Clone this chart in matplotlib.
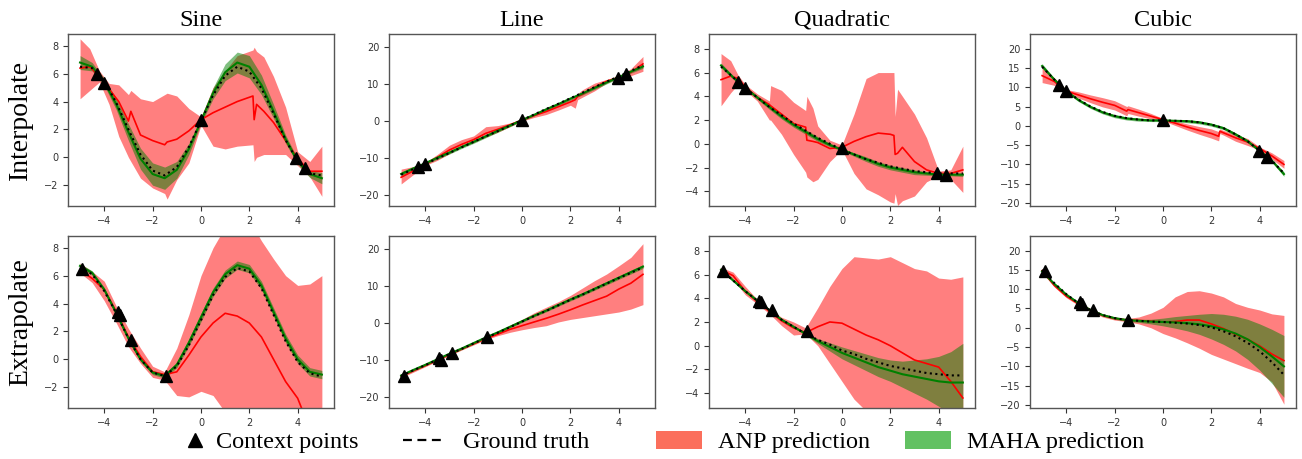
import numpy as np
import matplotlib
matplotlib.use('Agg')
import matplotlib.pyplot as plt
from matplotlib.lines import Line2D
from matplotlib.patches import Patch

# shared x grid for ground truth and MAHA curves
xs = [-5.0, -4.5, -4.0, -3.5, -3.0, -2.5, -2.0, -1.5, -1.0, -0.5, 0.0,
      0.5, 1.0, 1.5, 2.0, 2.5, 3.0, 3.5, 4.0, 4.5, 5.0]

col_titles = ['Sine', 'Line', 'Quadratic', 'Cubic']
row_titles = ['Interpolate', 'Extrapolate']

# context points
ctx_int_x = [-4.3, -4.0, 0.0, 3.95, 4.3]
ctx_ext_x = [-4.9, -3.45, -3.35, -2.9, -1.45]
sine_int_ctx = [6.0, 5.3, 2.65, -0.05, -0.75]
sine_ext_ctx = [6.5, 3.4, 3.2, 1.4, -1.2]
line_int_ctx = [-12.3, -11.5, 0.3, 11.8, 12.8]
line_ext_ctx = [-14.2, -9.5, -9.9, -8.2, -3.7]
quad_int_ctx = [5.2, 4.7, -0.35, -2.5, -2.6]
quad_ext_ctx = [6.3, 3.8, 3.7, 3.0, 1.2]
cub_int_ctx = [10.5, 9.0, 1.4, -6.6, -8.0]
cub_ext_ctx = [14.6, 6.6, 6.2, 4.7, 2.0]

# ---- Sine ----
sine_int_gt = [6.5, 6.4, 5.5, 3.9, 2.0, 0.2, -0.95, -1.3, -0.7, 0.75, 2.6,
               4.45, 5.85, 6.5, 6.15, 4.95, 3.15, 1.25, -0.3, -1.15, -1.3]
sine_int_maha = [6.8, 6.5, 5.4, 3.8, 1.8, -0.1, -1.2, -1.5, -0.9, 0.6, 2.6,
                 4.6, 6.1, 6.8, 6.5, 5.2, 3.3, 1.3, -0.3, -1.2, -1.5]
sine_int_maha_sd = [0.5, 0.3, 0.25, 0.4, 0.6, 0.75, 0.8, 0.8, 0.6, 0.4, 0.2,
                    0.4, 0.6, 0.75, 0.8, 0.7, 0.5, 0.3, 0.2, 0.25, 0.4]
sine_int_anp_x = [-5.0, -4.6, -4.2, -3.8, -3.4, -3.0, -2.9, -2.5, -2.0, -1.5,
                  -1.4, -1.0, -0.5, 0.0, 0.5, 1.0, 1.5, 2.15, 2.2, 2.3, 2.6,
                  3.0, 3.5, 4.0, 4.5, 5.0]
sine_int_anp = [6.4, 6.5, 5.8, 4.9, 4.0, 2.6, 3.3, 1.6, 1.2, 0.9, 1.1, 1.3,
                1.9, 2.7, 3.2, 3.6, 4.0, 4.4, 2.7, 3.8, 3.3, 2.5, 1.2, -0.1,
                -1.0, -1.0]
sine_int_anp_hi = [8.5, 7.8, 6.2, 5.3, 5.2, 4.5, 4.8, 4.2, 4.0, 4.5, 4.6, 4.4,
                   3.5, 2.9, 5.0, 6.2, 7.3, 7.7, 7.9, 7.6, 7.2, 5.8, 3.6, 0.4,
                   -0.3, 0.8]
sine_int_anp_lo = [4.2, 4.8, 5.4, 3.8, 1.5, 0.0, -0.3, -1.5, -2.2, -2.6, -3.0,
                   -1.6, -0.4, 2.3, 0.8, 0.6, 0.8, 0.9, -0.3, 0.0, 0.2, 0.2,
                   0.2, -0.6, -1.4, -2.8]

sine_ext_gt = [6.6, 6.1, 4.9, 3.3, 1.5, 0.0, -0.95, -1.2, -0.5, 1.0, 2.8,
               4.6, 5.9, 6.55, 6.3, 5.1, 3.2, 1.3, -0.2, -1.0, -1.25]
sine_ext_maha = [6.7, 6.2, 5.0, 3.3, 1.5, 0.0, -0.95, -1.2, -0.4, 1.2, 3.0,
                 4.8, 6.1, 6.75, 6.5, 5.3, 3.4, 1.5, 0.0, -0.9, -1.1]
sine_ext_maha_sd = [0.15, 0.15, 0.15, 0.15, 0.15, 0.15, 0.15, 0.15, 0.2, 0.25,
                    0.3, 0.3, 0.3, 0.3, 0.3, 0.3, 0.3, 0.3, 0.3, 0.3, 0.3]
sine_ext_anp = [6.4, 5.8, 5.0, 3.4, 1.6, 0.2, -0.9, -1.1, -0.9, 0.3, 1.6,
                2.6, 3.3, 3.1, 2.6, 1.6, 0.0, -1.6, -2.8, -5.0, -7.0]
sine_ext_anp_hi = [6.9, 6.3, 5.6, 3.8, 2.2, 0.8, -0.5, -0.9, 0.8, 3.2, 6.0,
                   8.0, 9.5, 10.5, 10.0, 8.5, 7.2, 6.0, 5.3, 5.4, 6.0]
sine_ext_anp_lo = [6.2, 5.5, 4.2, 2.6, 0.9, -0.3, -1.3, -1.5, -2.6, -2.7, -2.3,
                   -2.6, -3.8, -5.0, -6.0, -6.0, -6.0, -6.0, -6.0, -6.0, -6.0]

# ---- Line ----
line_int_gt = [-14.5, -13.0, -11.6, -10.1, -8.6, -7.1, -5.6, -4.1, -2.7, -1.2,
               0.3, 1.8, 3.3, 4.7, 6.2, 7.7, 9.2, 10.7, 12.1, 13.6, 15.1]
line_int_maha = [-14.3, -12.8, -11.4, -9.9, -8.5, -7.0, -5.6, -4.1, -2.6, -1.2,
                 0.3, 1.7, 3.2, 4.6, 6.1, 7.5, 9.0, 10.5, 11.9, 13.4, 14.8]
line_int_maha_sd = [0.5, 0.4, 0.3, 0.4, 0.4, 0.4, 0.4, 0.4, 0.4, 0.3, 0.3,
                    0.3, 0.4, 0.4, 0.4, 0.4, 0.4, 0.4, 0.3, 0.4, 0.5]
line_int_anp_x = [-5.0, -4.5, -4.0, -3.5, -3.0, -2.5, -2.0, -1.5, -1.0, -0.5,
                  0.0, 0.5, 1.0, 1.5, 2.0, 2.2, 2.3, 2.5, 3.0, 3.5, 4.0, 4.5,
                  5.0]
line_int_anp = [-15.2, -13.5, -11.6, -9.8, -7.8, -6.3, -5.0, -3.3, -2.2, -1.0,
                0.3, 1.5, 2.6, 3.9, 5.2, 5.8, 6.7, 7.3, 9.2, 10.8, 11.9, 13.2,
                15.5]
line_int_anp_hi = [-13.0, -12.3, -11.2, -9.0, -6.5, -5.0, -4.0, -1.5, -1.2,
                   -0.5, 0.6, 2.0, 3.5, 4.8, 6.0, 6.5, 7.5, 8.5, 10.3, 11.3,
                   12.2, 14.2, 17.5]
line_int_anp_lo = [-17.0, -14.5, -12.0, -10.6, -8.8, -7.0, -5.8, -4.3, -3.0,
                   -1.5, 0.0, 1.0, 1.8, 3.0, 4.3, 3.5, 5.8, 6.5, 8.2, 10.3,
                   11.6, 12.3, 13.5]

line_ext_gt = [-14.3, -12.8, -11.4, -9.9, -8.4, -7.0, -5.5, -4.0, -2.6, -1.1,
               0.4, 1.9, 3.3, 4.8, 6.3, 7.7, 9.2, 10.7, 12.2, 13.6, 15.1]
line_ext_maha = [-14.2, -12.7, -11.3, -9.8, -8.3, -6.9, -5.4, -3.9, -2.5, -1.0,
                 0.5, 2.0, 3.4, 4.9, 6.4, 7.8, 9.3, 10.8, 12.3, 13.8, 15.3]
line_ext_maha_sd = [0.3, 0.3, 0.3, 0.3, 0.3, 0.3, 0.3, 0.3, 0.3, 0.3, 0.3,
                    0.3, 0.35, 0.35, 0.4, 0.4, 0.4, 0.45, 0.45, 0.5, 0.5]
line_ext_anp = [-14.4, -12.9, -11.5, -10.0, -8.5, -7.0, -5.6, -4.2, -3.0, -1.7,
                -0.7, 0.3, 1.3, 2.4, 3.6, 4.9, 6.1, 7.3, 9.2, 10.8, 13.2]
line_ext_anp_hi = [-14.0, -12.6, -11.2, -9.7, -8.2, -6.7, -5.3, -3.9, -2.4,
                   -0.6, 1.0, 2.8, 4.3, 5.8, 7.5, 9.5, 11.5, 13.3, 15.5, 17.8,
                   21.5]
line_ext_anp_lo = [-14.8, -13.3, -11.8, -10.3, -8.8, -7.3, -5.9, -4.5, -3.4,
                   -2.5, -1.8, -1.2, -0.7, 0.3, 1.0, 1.5, 2.0, 2.5, 3.0, 3.8,
                   5.0]

# ---- Quadratic ----
quad_int_gt = [6.5, 5.6, 4.7, 3.9, 3.1, 2.4, 1.7, 1.1, 0.5, 0.0, -0.5, -0.9,
               -1.3, -1.6, -1.9, -2.1, -2.3, -2.4, -2.5, -2.5, -2.5]
quad_int_maha = [6.6, 5.6, 4.7, 3.9, 3.1, 2.3, 1.6, 1.0, 0.4, -0.1, -0.5, -0.9,
                 -1.3, -1.7, -2.0, -2.2, -2.4, -2.5, -2.6, -2.6, -2.6]
quad_int_maha_sd = [0.2, 0.15, 0.1, 0.15, 0.2, 0.2, 0.2, 0.2, 0.2, 0.15, 0.1,
                    0.15, 0.2, 0.2, 0.2, 0.2, 0.2, 0.15, 0.1, 0.1, 0.15]
quad_int_anp_x = [-5.0, -4.6, -4.3, -4.0, -3.5, -3.0, -2.95, -2.5, -2.0, -1.5,
                  -1.45, -1.2, -1.0, -0.5, 0.0, 0.5, 1.0, 1.5, 2.0, 2.15, 2.2,
                  2.3, 2.5, 3.0, 3.5, 4.0, 4.5, 5.0]
quad_int_anp = [5.4, 5.7, 5.5, 4.8, 3.9, 3.3, 3.2, 2.5, 1.7, 1.4, 0.3, 0.2,
                0.1, -0.4, -0.3, 0.2, 0.6, 0.9, 0.8, 0.7, -0.9, -0.8, -0.3,
                -1.5, -2.2, -2.5, -2.5, -2.2]
quad_int_anp_hi = [7.6, 7.0, 5.8, 5.0, 4.2, 3.6, 4.9, 4.5, 3.5, 2.8, 4.0, 3.0,
                   1.5, 0.3, -0.1, 2.5, 5.5, 6.0, 6.0, 6.0, 2.3, 4.6, 4.0, 2.5,
                   0.5, -2.3, -2.2, -0.2]
quad_int_anp_lo = [3.2, 4.3, 5.0, 4.5, 3.6, 2.0, 2.0, 0.8, -0.9, -2.4, -2.8,
                   -3.2, -3.0, -1.5, -0.5, -2.5, -3.8, -4.3, -4.9, -5.0, -4.2,
                   -5.2, -4.8, -4.4, -3.2, -2.7, -3.0, -4.1]

quad_ext_gt = [6.4, 5.5, 4.6, 3.8, 3.0, 2.2, 1.6, 1.0, 0.5, 0.1, -0.4, -0.7,
               -1.1, -1.4, -1.7, -1.9, -2.1, -2.3, -2.4, -2.5, -2.5]
quad_ext_maha = [6.4, 5.5, 4.6, 3.8, 3.0, 2.2, 1.6, 1.0, 0.4, -0.1, -0.6,
                 -1.0, -1.4, -1.8, -2.1, -2.4, -2.6, -2.8, -3.0, -3.1, -3.1]
quad_ext_maha_sd = [0.1, 0.1, 0.1, 0.1, 0.1, 0.1, 0.1, 0.1, 0.2, 0.35, 0.5,
                    0.6, 0.7, 0.8, 0.9, 1.1, 1.4, 1.7, 2.1, 2.6, 3.3]
quad_ext_anp = [6.4, 5.9, 4.6, 3.7, 2.9, 2.1, 1.5, 1.1, 1.6, 2.0, 1.9, 1.4,
                0.9, 0.5, 0.0, -0.6, -1.2, -1.5, -1.8, -3.0, -4.4]
quad_ext_anp_hi = [6.6, 6.2, 5.0, 3.9, 3.1, 2.4, 2.0, 1.5, 3.2, 5.0, 6.5, 7.5,
                   7.4, 7.3, 7.5, 7.0, 6.5, 6.3, 5.7, 5.6, 5.8]
quad_ext_anp_lo = [6.2, 5.6, 4.3, 3.5, 2.7, 1.7, 0.9, 1.0, 0.0, -1.5, -3.0,
                   -4.5, -5.5, -6.0, -6.0, -6.0, -6.0, -6.0, -6.0, -6.0, -6.0]

# ---- Cubic ----
cub_int_gt = [15.3, 12.0, 9.0, 6.8, 5.0, 3.6, 2.6, 2.0, 1.6, 1.4, 1.4, 1.3,
              1.2, 0.9, 0.3, -0.6, -2.2, -4.0, -6.5, -9.0, -12.3]
cub_int_maha = [15.5, 12.0, 9.0, 6.7, 4.9, 3.5, 2.5, 1.9, 1.6, 1.4, 1.4, 1.3,
                1.2, 0.9, 0.3, -0.6, -2.2, -4.0, -6.5, -9.0, -12.5]
cub_int_maha_sd = [0.6, 0.4, 0.3, 0.4, 0.4, 0.4, 0.4, 0.4, 0.4, 0.3, 0.3,
                   0.3, 0.4, 0.4, 0.4, 0.4, 0.4, 0.4, 0.3, 0.4, 0.6]
cub_int_anp_x = [-5.0, -4.5, -4.0, -3.5, -3.0, -2.5, -2.0, -1.5, -1.45, -1.0,
                 -0.5, 0.0, 0.5, 1.0, 1.5, 2.0, 2.3, 2.35, 2.5, 3.0, 3.5, 4.0,
                 4.5, 5.0]
cub_int_anp = [13.0, 11.5, 9.0, 8.0, 7.0, 6.1, 5.3, 3.8, 4.2, 3.4, 2.5, 1.6,
               0.7, -0.3, -1.2, -2.0, -2.7, -1.4, -1.8, -3.1, -4.2, -5.9,
               -7.8, -10.0]
cub_int_anp_hi = [15.0, 12.5, 9.4, 8.8, 8.0, 7.3, 6.5, 5.0, 5.2, 4.3, 3.2,
                  1.9, 1.3, 0.5, -0.2, -0.8, -1.5, -0.8, -1.2, -2.2, -3.3,
                  -5.5, -7.0, -9.0]
cub_int_anp_lo = [11.2, 10.5, 8.6, 7.2, 6.0, 4.9, 4.1, 2.6, 3.2, 2.5, 1.8,
                  1.3, 0.1, -1.1, -2.2, -3.2, -3.9, -2.0, -2.4, -4.0, -5.1,
                  -6.3, -8.6, -11.0]

cub_ext_gt = [15.0, 11.6, 8.7, 6.4, 4.6, 3.3, 2.5, 2.0, 1.8, 1.6, 1.5, 1.3,
              1.1, 0.7, 0.1, -0.9, -2.2, -3.9, -6.1, -8.9, -12.2]
cub_ext_maha = [14.6, 11.4, 8.6, 6.4, 4.6, 3.3, 2.5, 2.0, 1.8, 1.6, 1.5, 1.4,
                1.2, 0.9, 0.4, -0.4, -1.5, -3.0, -5.0, -7.4, -10.0]
cub_ext_maha_sd = [0.3, 0.3, 0.3, 0.3, 0.3, 0.3, 0.3, 0.3, 0.4, 0.6, 1.0,
                   1.5, 2.0, 2.6, 3.3, 3.9, 4.5, 5.2, 6.0, 7.0, 8.0]
cub_ext_anp = [14.8, 11.0, 8.2, 6.2, 4.6, 3.2, 2.4, 2.0, 1.9, 1.7, 1.5, 1.6,
               2.0, 2.0, 1.0, -0.2, -1.7, -3.0, -4.7, -6.8, -8.5]
cub_ext_anp_hi = [15.3, 11.5, 8.6, 6.6, 5.0, 3.6, 2.8, 2.4, 2.8, 3.8, 5.3,
                  8.0, 9.4, 9.6, 9.0, 8.0, 6.3, 5.3, 4.6, 3.6, 3.2]
cub_ext_anp_lo = [14.3, 10.6, 7.8, 5.8, 4.2, 2.8, 2.0, 1.6, 1.0, 0.0, -1.5,
                  -2.6, -3.9, -5.3, -6.9, -8.1, -9.3, -10.5, -11.6, -14.0,
                  -19.8]

ylims = [(-3.5, 8.85), (-23.0, 23.6), (-5.25, 9.25), (-20.8, 23.8)]
yticks = [[-2, 0, 2, 4, 6, 8], [-20, -10, 0, 10, 20],
          [-4, -2, 0, 2, 4, 6, 8], [-20, -15, -10, -5, 0, 5, 10, 15, 20]]

# (gt, maha, maha_sd, anp_x, anp, anp_lo, anp_hi, ctx_x, ctx_y)
panels = [
    [(sine_int_gt, sine_int_maha, sine_int_maha_sd, sine_int_anp_x, sine_int_anp,
      sine_int_anp_lo, sine_int_anp_hi, ctx_int_x, sine_int_ctx),
     (line_int_gt, line_int_maha, line_int_maha_sd, line_int_anp_x, line_int_anp,
      line_int_anp_lo, line_int_anp_hi, ctx_int_x, line_int_ctx),
     (quad_int_gt, quad_int_maha, quad_int_maha_sd, quad_int_anp_x, quad_int_anp,
      quad_int_anp_lo, quad_int_anp_hi, ctx_int_x, quad_int_ctx),
     (cub_int_gt, cub_int_maha, cub_int_maha_sd, cub_int_anp_x, cub_int_anp,
      cub_int_anp_lo, cub_int_anp_hi, ctx_int_x, cub_int_ctx)],
    [(sine_ext_gt, sine_ext_maha, sine_ext_maha_sd, xs, sine_ext_anp,
      sine_ext_anp_lo, sine_ext_anp_hi, ctx_ext_x, sine_ext_ctx),
     (line_ext_gt, line_ext_maha, line_ext_maha_sd, xs, line_ext_anp,
      line_ext_anp_lo, line_ext_anp_hi, ctx_ext_x, line_ext_ctx),
     (quad_ext_gt, quad_ext_maha, quad_ext_maha_sd, xs, quad_ext_anp,
      quad_ext_anp_lo, quad_ext_anp_hi, ctx_ext_x, quad_ext_ctx),
     (cub_ext_gt, cub_ext_maha, cub_ext_maha_sd, xs, cub_ext_anp,
      cub_ext_anp_lo, cub_ext_anp_hi, ctx_ext_x, cub_ext_ctx)],
]

serif = ['Liberation Serif', 'DejaVu Serif']

fig = plt.figure(figsize=(13.02, 4.59), dpi=100)
lefts = [0.0522, 0.2988, 0.5445, 0.7911]
bottoms = [0.551, 0.111]

for r in range(2):
    for c in range(4):
        gt, mu, sd, ax_x, anp, lo, hi, cx, cy = panels[r][c]
        ax = fig.add_axes([lefts[c], bottoms[r], 0.2043, 0.375])
        mu = np.array(mu)
        sd = np.array(sd)
        ax.fill_between(ax_x, lo, hi, color='red', alpha=0.5, linewidth=0)
        ax.fill_between(xs, mu - sd, mu + sd, color='green', alpha=0.5, linewidth=0)
        ax.plot(ax_x, anp, color='red', lw=1.2)
        ax.plot(xs, mu, color='green', lw=1.5)
        ax.plot(xs, gt, 'k:', lw=1.5)
        ax.plot(cx, cy, 'k^', markersize=8, zorder=5)
        ax.set_xlim(-5.5, 5.5)
        ax.set_ylim(*ylims[c])
        ax.set_xticks([-4, -2, 0, 2, 4])
        ax.set_yticks(yticks[c])
        ax.tick_params(labelsize=7, colors='#333333', length=3.5, width=0.8)
        for s in ax.spines.values():
            s.set_color('#555555')
            s.set_linewidth(1.0)
        if r == 0:
            ax.set_title(col_titles[c], family=serif, fontsize=17.5, pad=6)

for r in range(2):
    fig.text(0.016, bottoms[r] + 0.1875, row_titles[r], rotation=90,
             ha='center', va='center', family=serif, fontsize=20)

# legend items, each placed on its own along the bottom
leg_items = [
    (Line2D([], [], marker='^', color='k', linestyle='none', markersize=10),
     'Context points', 183, 1.0, 0.35),
    (Line2D([], [], color='k', linestyle=(0, (4, 2.5)), lw=1.6),
     'Ground truth', 403, 1.65, 0.8),
    (Patch(facecolor='#fb6f5c', edgecolor='none'),
     'ANP prediction', 656, 1.9, 0.65),
    (Patch(facecolor='#62c162', edgecolor='none'),
     'MAHA prediction', 905, 1.9, 0.65),
]
for h, lab, px, hl, tp in leg_items:
    fig.legend([h], [lab], loc='center left',
               bbox_to_anchor=(px / 1302, 1 - 442 / 459),
               frameon=False, prop={'family': serif, 'size': 17.5},
               borderpad=0, borderaxespad=0, handlelength=hl,
               handleheight=0.8, handletextpad=tp)

fig.savefig('out.png', dpi=100)
